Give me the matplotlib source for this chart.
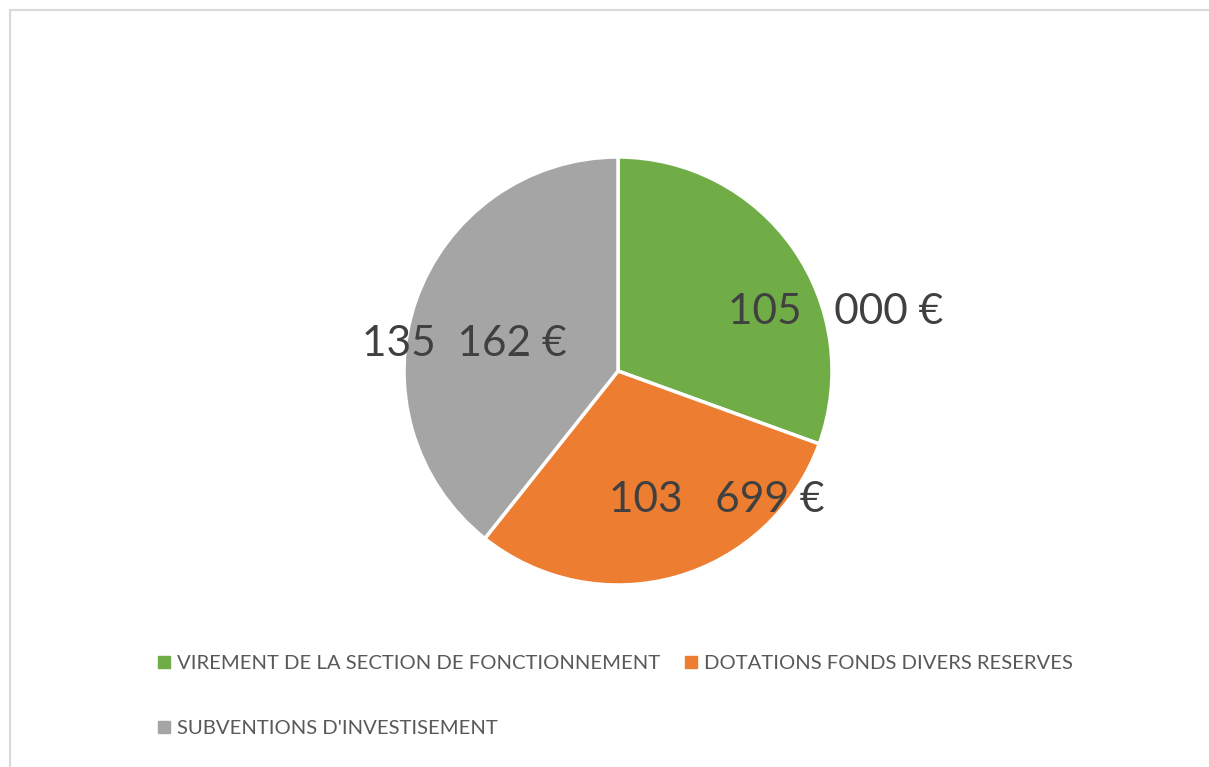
import matplotlib.pyplot as plt
from matplotlib.lines import Line2D
from matplotlib.patches import Rectangle
import numpy as np

plt.rcParams['font.family'] = ['Lato', 'DejaVu Sans']

# data
categories = ['VIREMENT DE LA SECTION DE FONCTIONNEMENT',
              'DOTATIONS FONDS DIVERS RESERVES',
              "SUBVENTIONS D'INVESTISEMENT"]
values = [105000, 103699, 135162]
value_labels = ['105   000 €', '103   699 €', '135  162 €']
colors = ['#70AD47', '#ED7D31', '#A5A5A5']

# label spots (fraction of radius), Excel "best fit" style
label_pos = [(1.015, 0.275), (0.46, -0.605), (-0.72, 0.125)]

W, H = 1209, 767
fig = plt.figure(figsize=(W / 100, H / 100), dpi=100)

# light frame around the chart area
fig.patches.append(Rectangle((10 / W, -0.01), 1.05, 1 - 10 / H + 0.01,
                             transform=fig.transFigure, fill=False,
                             edgecolor='#D9D9D9', linewidth=1.5))

cx, cy, r = 618, 371, 214
ax = fig.add_axes([(cx - r) / W, (H - cy - r) / H, 2 * r / W, 2 * r / H])
wedges, _ = ax.pie(values, colors=colors, startangle=90, counterclock=False,
                   wedgeprops=dict(edgecolor='white', linewidth=2.5))
ax.set_xlim(-1, 1)
ax.set_ylim(-1, 1)
ax.set_aspect('equal')
ax.axis('off')

for (lx, ly), txt in zip(label_pos, value_labels):
    ax.text(lx, ly, txt, ha='center', va='center', fontsize=30.5, color='#404040')

# legend: row 1 green + orange, row 2 gray
handles = [Line2D([], [], marker='s', linestyle='none', markersize=8,
                  markerfacecolor=c, markeredgecolor=c) for c in colors]
order = [0, 2, 1]
fig.legend([handles[i] for i in order], [categories[i] for i in order],
           ncol=2, loc='upper left', bbox_to_anchor=(148 / W, 1 - 645 / H),
           frameon=False, fontsize=14.6, labelcolor='#595959',
           handlelength=0.6, handletextpad=0.35, columnspacing=1.2,
           labelspacing=2.35, borderpad=0)

fig.savefig('out.png', dpi=100)
